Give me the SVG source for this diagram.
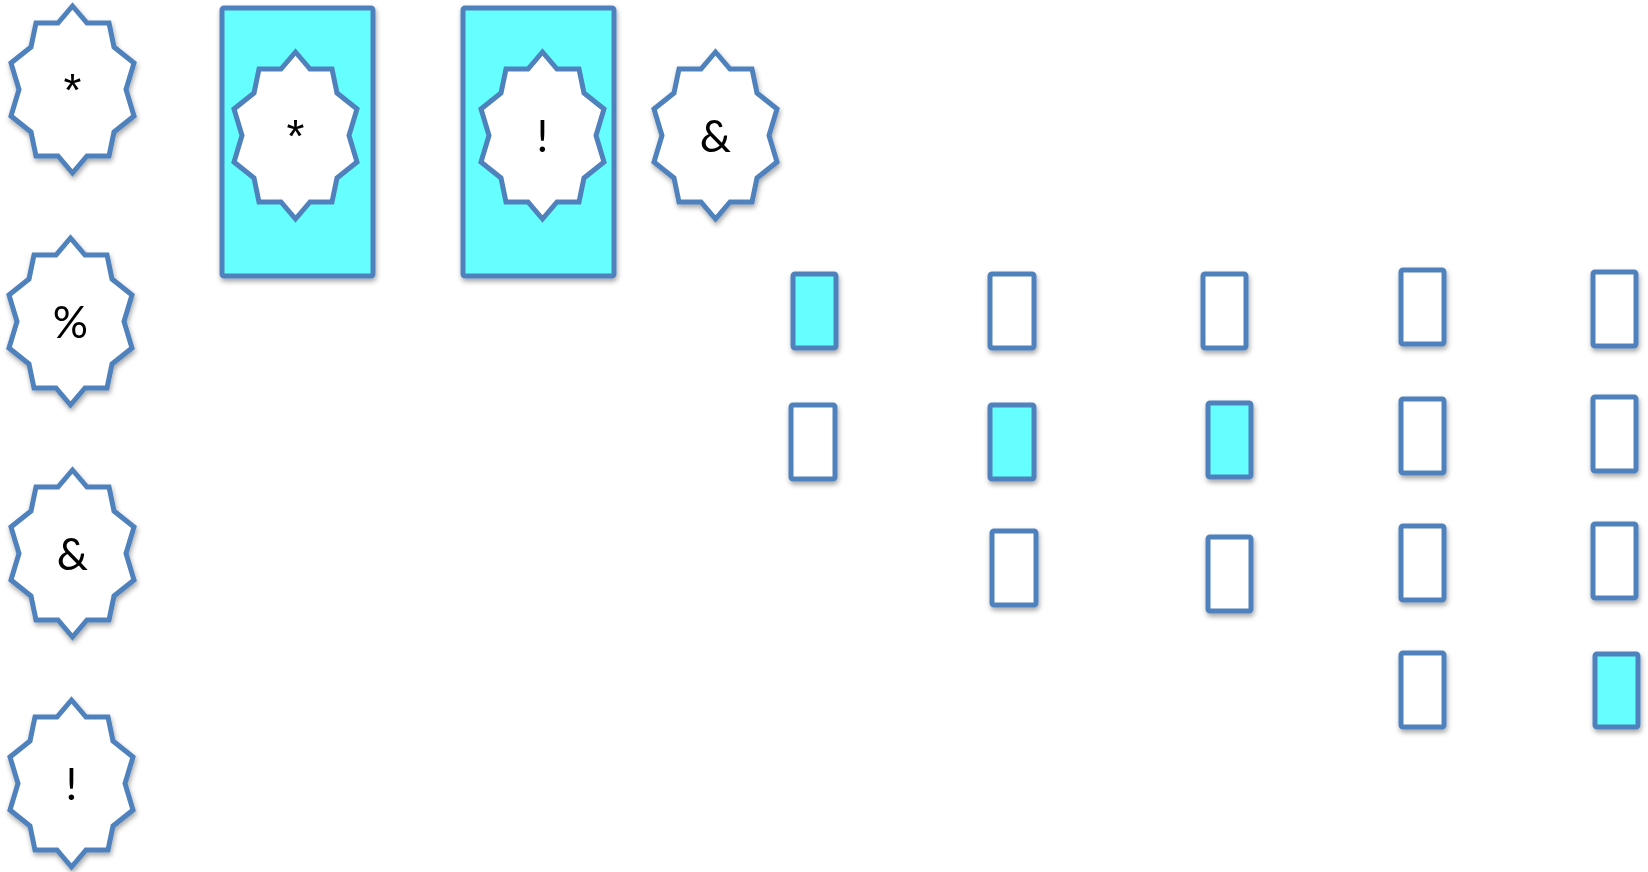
<svg xmlns="http://www.w3.org/2000/svg" xmlns:xlink="http://www.w3.org/1999/xlink" width="1648" height="872" viewBox="0 0 1648 872">
<style>
  .st { fill: #ffffff; stroke: #4F81BD; stroke-width: 5; stroke-linejoin: miter; }
  .box { stroke: #4F81BD; stroke-width: 5; }
  .cy { fill: #66FFFF; }
  .wh { fill: #ffffff; }
  .sh { filter: url(#shadow); }
  .lbl { font-family: Lato, "Open Sans", "Liberation Sans", sans-serif; font-size: 44px; fill: #000000; text-anchor: middle; }
  .ast { font-family: "Liberation Sans", Arial, sans-serif; font-size: 46px; fill: #000000; text-anchor: middle; }
</style>
<defs>
  <filter id="shadow" x="-20%" y="-20%" width="140%" height="140%">
    <feDropShadow dx="1" dy="3" stdDeviation="2.5" flood-color="#000000" flood-opacity="0.35"/>
  </filter>
  <polygon id="star" class="st" points="61.5,0 76,17 98,17 103,41 123,57 115,83.5 123,110 103,126 98,150 76,150 61.5,167 47,150 25,150 20,126 0,110 8,83.5 0,57 20,41 25,17 47,17"/>
</defs>
<rect width="1648" height="872" fill="#ffffff"/>

<g id="star-asterisk-left" class="sh">
  <use href="#star" x="11" y="6"/>
  <text class="ast" x="72.5" y="106">*</text>
</g>
<g id="star-percent-left" class="sh">
  <use href="#star" x="9" y="238"/>
  <text class="lbl" x="70.5" y="338">%</text>
</g>
<g id="star-amp-left" class="sh">
  <use href="#star" x="11" y="470"/>
  <text class="lbl" x="72.5" y="569.5">&amp;</text>
</g>
<g id="star-excl-left" class="sh">
  <use href="#star" x="10" y="700"/>
  <text class="lbl" x="71.5" y="799.5">!</text>
</g>

<g id="box-asterisk" class="sh">
  <rect class="box cy" x="222" y="8" width="151" height="268" rx="2"/>
  <use href="#star" x="234" y="52"/>
  <text class="ast" x="295.5" y="152">*</text>
</g>
<g id="box-excl" class="sh">
  <rect class="box cy" x="463" y="8" width="151" height="268" rx="2"/>
  <use href="#star" x="481" y="52"/>
  <text class="lbl" x="542.5" y="151.5">!</text>
</g>
<g id="star-amp-top" class="sh">
  <use href="#star" x="654" y="52"/>
  <text class="lbl" x="715.5" y="151.5">&amp;</text>
</g>

<g id="col-1" class="sh">
  <rect id="r-1-1" class="box cy" x="793" y="274" width="43" height="74" rx="2"/>
  <rect id="r-1-2" class="box wh" x="791" y="405" width="44" height="74" rx="2"/>
</g>
<g id="col-2" class="sh">
  <rect id="r-2-1" class="box wh" x="990" y="274" width="44" height="74" rx="2"/>
  <rect id="r-2-2" class="box cy" x="990" y="405" width="44" height="74" rx="2"/>
  <rect id="r-2-3" class="box wh" x="992" y="531" width="44" height="74" rx="2"/>
</g>
<g id="col-3" class="sh">
  <rect id="r-3-1" class="box wh" x="1203" y="274" width="43" height="74" rx="2"/>
  <rect id="r-3-2" class="box cy" x="1208" y="403" width="43" height="74" rx="2"/>
  <rect id="r-3-3" class="box wh" x="1208" y="537" width="43" height="74" rx="2"/>
</g>
<g id="col-4" class="sh">
  <rect id="r-4-1" class="box wh" x="1401" y="270" width="43" height="74" rx="2"/>
  <rect id="r-4-2" class="box wh" x="1401" y="399" width="43" height="74" rx="2"/>
  <rect id="r-4-3" class="box wh" x="1401" y="526" width="43" height="74" rx="2"/>
  <rect id="r-4-4" class="box wh" x="1401" y="653" width="43" height="74" rx="2"/>
</g>
<g id="col-5" class="sh">
  <rect id="r-5-1" class="box wh" x="1593" y="272" width="43" height="74" rx="2"/>
  <rect id="r-5-2" class="box wh" x="1593" y="397" width="43" height="74" rx="2"/>
  <rect id="r-5-3" class="box wh" x="1593" y="524" width="43" height="74" rx="2"/>
  <rect id="r-5-4" class="box cy" x="1595" y="654" width="43" height="73" rx="2"/>
</g>
<g id="connectors"></g>
</svg>
